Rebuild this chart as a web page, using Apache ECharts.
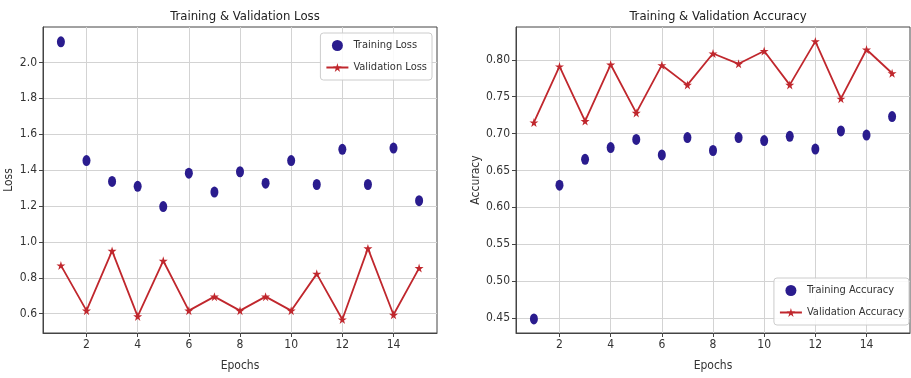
<!DOCTYPE html>
<html>
<head>
<meta charset="utf-8">
<script src="https://cdn.jsdelivr.net/npm/echarts@6/dist/echarts.min.js"></script>
<style>
  html, body { margin: 0; padding: 0; background: #fff; }
  #chart { width: 911px; height: 378px; }
</style>
</head>
<body>
<div id="chart"></div>
<script>
var epochs = [1, 2, 3, 4, 5, 6, 7, 8, 9, 10, 11, 12, 13, 14, 15];
var trainLoss = [2.115, 1.453, 1.337, 1.31, 1.197, 1.383, 1.278, 1.391, 1.327, 1.453, 1.32, 1.516, 1.32, 1.523, 1.23];
var valLoss = [0.869, 0.617, 0.95, 0.585, 0.895, 0.617, 0.695, 0.617, 0.695, 0.617, 0.822, 0.568, 0.964, 0.594, 0.854];
var trainAcc = [0.4486, 0.630, 0.665, 0.681, 0.692, 0.671, 0.6946, 0.677, 0.6946, 0.6905, 0.6963, 0.679, 0.7035, 0.698, 0.723];
var valAcc = [0.715, 0.791, 0.717, 0.7936, 0.728, 0.7927, 0.766, 0.8086, 0.7946, 0.812, 0.766, 0.825, 0.7473, 0.814, 0.7818];
var xTicks = [2, 4, 6, 8, 10, 12, 14];
var lossTicks = [0.6, 0.8, 1.0, 1.2, 1.4, 1.6, 1.8, 2.0];
var accTicks = [0.45, 0.50, 0.55, 0.60, 0.65, 0.70, 0.75, 0.80];

var font = "'DejaVu Sans Condensed', 'Liberation Sans Narrow', 'DejaVu Sans', sans-serif";
var star = 'path://M50,0 L61,35 L98,35 L68,57 L79,91 L50,70 L21,91 L32,57 L2,35 L39,35 Z';
var navy = '#2a1c8e';
var red = '#c0272d';

function pairs(ys) {
    return epochs.map(function (e, i) { return [e, ys[i]]; });
}

function xAxisOf(idx) {
    return {
        type: 'value', gridIndex: idx, min: 0.3, max: 15.7,
        name: 'Epochs', nameLocation: 'middle', nameGap: 27,
        nameTextStyle: { fontFamily: font, fontSize: 12, color: '#333' },
        axisLine: { show: true, lineStyle: { color: '#444' } },
        axisTick: { show: true, length: 4, customValues: xTicks, lineStyle: { color: '#444' } },
        axisLabel: { customValues: xTicks, fontFamily: font, fontSize: 12, color: '#333', margin: 6 },
        splitLine: { show: true, lineStyle: { color: '#d3d3d3', width: 1 } }
    };
}

function yAxisOf(idx, name, min, max, ticks, digits, gap) {
    return {
        type: 'value', gridIndex: idx, min: min, max: max,
        name: name, nameLocation: 'middle', nameGap: gap, nameRotate: 90,
        nameTextStyle: { fontFamily: font, fontSize: 12, color: '#333' },
        axisLine: { show: true, lineStyle: { color: '#444' } },
        axisTick: { show: true, length: 4, customValues: ticks, lineStyle: { color: '#444' } },
        axisLabel: {
            customValues: ticks, fontFamily: font, fontSize: 12, color: '#333', margin: 6,
            formatter: function (v) { return v.toFixed(digits); }
        },
        splitLine: { show: true, lineStyle: { color: '#d3d3d3', width: 1 } }
    };
}

var legendStyle = {
    orient: 'vertical', itemWidth: 22, itemHeight: 11, itemGap: 11,
    padding: [7, 5, 7, 5],
    borderColor: '#ccc', borderWidth: 1, borderRadius: 3,
    backgroundColor: 'rgba(255,255,255,0.85)',
    textStyle: { fontFamily: font, fontSize: 11, color: '#333' }
};

var chart = echarts.init(document.getElementById('chart'));
chart.setOption({
    animation: false,
    title: [
        { text: 'Training & Validation Loss', left: 240, top: 5, textAlign: 'center',
          textStyle: { fontFamily: font, fontSize: 13, fontWeight: 'normal', color: '#222' } },
        { text: 'Training & Validation Accuracy', left: 713, top: 5, textAlign: 'center',
          textStyle: { fontFamily: font, fontSize: 13, fontWeight: 'normal', color: '#222' } }
    ],
    legend: [
        Object.assign({ right: 479, top: 33, data: ['Training Loss', 'Validation Loss'] }, legendStyle),
        Object.assign({ right: 2, top: 278, data: ['Training Accuracy', 'Validation Accuracy'] }, legendStyle)
    ],
    grid: [
        { left: 43, right: 474, top: 27, bottom: 45, show: true, borderColor: '#444', borderWidth: 1 },
        { left: 516, right: 1, top: 27, bottom: 45, show: true, borderColor: '#444', borderWidth: 1 }
    ],
    xAxis: [xAxisOf(0), xAxisOf(1)],
    yAxis: [
        yAxisOf(0, 'Loss', 0.4925, 2.1975, lossTicks, 1, 28),
        yAxisOf(1, 'Accuracy', 0.4295, 0.8445, accTicks, 2, 32)
    ],
    series: [
        { name: 'Training Loss', type: 'scatter', xAxisIndex: 0, yAxisIndex: 0,
          symbol: 'circle', symbolSize: [8, 11], itemStyle: { color: navy, opacity: 1 }, data: pairs(trainLoss) },
        { name: 'Validation Loss', type: 'line', xAxisIndex: 0, yAxisIndex: 0,
          symbol: star, symbolSize: 9, lineStyle: { color: red, width: 1.8 }, itemStyle: { color: red },
          data: pairs(valLoss) },
        { name: 'Training Accuracy', type: 'scatter', xAxisIndex: 1, yAxisIndex: 1,
          symbol: 'circle', symbolSize: [8, 11], itemStyle: { color: navy, opacity: 1 }, data: pairs(trainAcc) },
        { name: 'Validation Accuracy', type: 'line', xAxisIndex: 1, yAxisIndex: 1,
          symbol: star, symbolSize: 9, lineStyle: { color: red, width: 1.8 }, itemStyle: { color: red },
          data: pairs(valAcc) }
    ]
});
</script>
</body>
</html>
